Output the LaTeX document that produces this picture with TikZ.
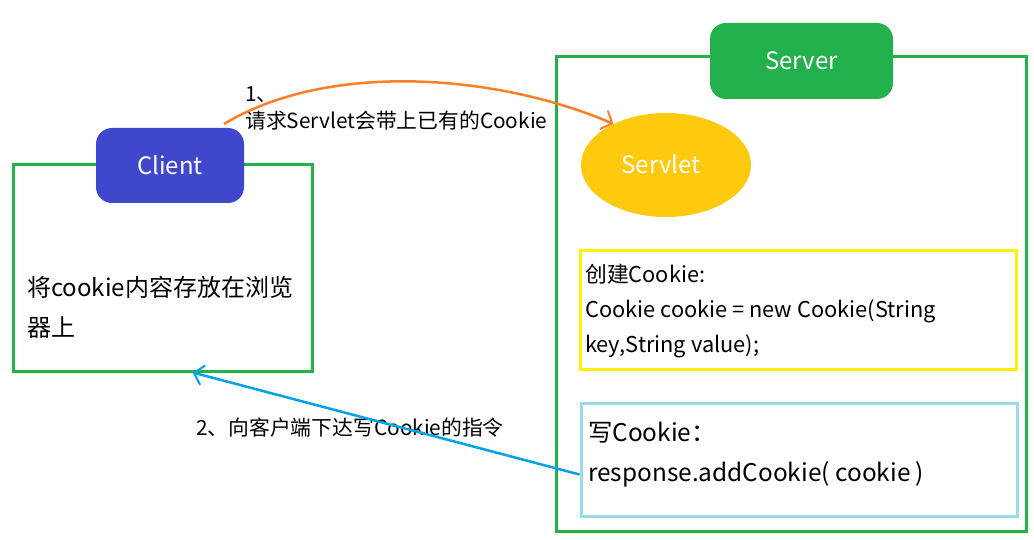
\documentclass[tikz,border=0pt]{standalone}
\usepackage{fontspec}
\setmainfont{Noto Sans CJK SC}
\usetikzlibrary{arrows.meta,shapes.geometric,calc}
\definecolor{frameGreen}{HTML}{22B14C}
\definecolor{clientBlue}{HTML}{3F48CC}
\definecolor{servletYellow}{HTML}{FFC90E}
\definecolor{boxYellow}{HTML}{FFF200}
\definecolor{boxBlue}{HTML}{99D9EA}
\definecolor{arrowOrange}{HTML}{FF7F27}
\definecolor{arrowBlue}{HTML}{00A2E8}
\tikzset{
  frame/.style={draw=frameGreen, line width=3pt, rectangle, inner sep=0pt},
  label box/.style={rectangle, rounded corners=16pt, inner sep=0pt, text=white,
     font=\fontsize{24}{28}\selectfont},
  txt/.style={inner sep=0pt, align=left, anchor=west, text=black},
  barb/.style={-{Straight Barb[length=9pt,width=20pt,line width=2pt]}, line width=2.5pt},
}
\begin{document}
\begin{tikzpicture}[x=1pt,y=-1pt]
\useasboundingbox (0,0) rectangle (1034,540);
% frames
\node[frame, minimum width=299pt, minimum height=206pt] (clientbox) at (162.5,268) {};
\node[frame, minimum width=470pt, minimum height=474pt] (serverbox) at (791,294) {};
% labels
\node[label box, fill=clientBlue, minimum width=148pt, minimum height=75pt] (clientlbl) at (170,165.5) {Client};
\node[label box, fill=frameGreen, minimum width=183pt, minimum height=76pt] (serverlbl) at (801.5,61) {Server};
% servlet
\node[ellipse, fill=servletYellow, minimum width=170pt, minimum height=104pt, inner sep=0pt,
      text=white, font=\fontsize{24}{28}\selectfont] (servlet) at (666,165) {};
\node[inner sep=0pt, text=white, font=\fontsize{24}{28}\selectfont] (servlettxt) at (661,164) {Servlet};
% client text
\node[txt, font=\fontsize{24}{40}\selectfont] (clienttxt) at (27,307) {将cookie内容存放在浏览\\器上};
% yellow box
\node[draw=boxYellow, line width=3pt, rectangle, minimum width=436pt, minimum height=118pt, inner sep=0pt] (createbox) at (798,310) {};
\node[txt, font=\fontsize{21.8}{35}\selectfont] (createtxt) at (585,311) {创建Cookie:\\Cookie cookie = new Cookie(String\\key,String value);};
% blue box
\node[draw=boxBlue, line width=3pt, rectangle, minimum width=436pt, minimum height=113pt, inner sep=0pt] (writebox) at (799,459.5) {};
\node[txt, font=\fontsize{24.4}{40}\selectfont] (writetxt) at (588,455) {写Cookie：\\response.addCookie( cookie )};
% connector labels
\node[txt, font=\fontsize{20.8}{27}\selectfont] (lbl1) at (245,108.5) {1、\\请求Servlet会带上已有的Cookie};
\node[txt, font=\fontsize{20.8}{24}\selectfont] (lbl2) at (196,428) {2、向客户端下达写Cookie的指令};
% connectors
\coordinate (reqstart) at (224,124);
\draw[barb, draw=arrowOrange] (reqstart) .. controls (330,60) and (500,75) .. (servlet.142);
\draw[barb, draw=arrowBlue] ([yshift=-15pt]writebox.west) -- ($(clientbox.south west)!0.6!(clientbox.south east)$);
\end{tikzpicture}
\end{document}
